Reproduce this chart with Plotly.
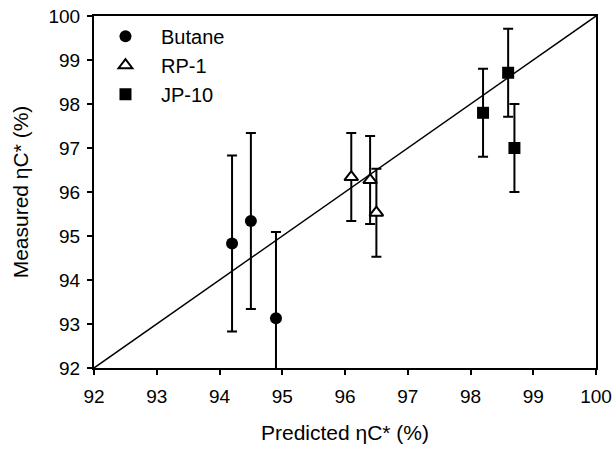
import plotly.graph_objects as go

# Data
butane_x = [94.2, 94.5, 94.9]
butane_y = [94.83, 95.34, 93.13]
butane_err = [2.0, 2.0, 1.96]

rp1_x = [96.1, 96.4, 96.5]
rp1_y = [96.34, 96.27, 95.53]
rp1_err = [1.0, 1.0, 1.0]

jp10_x = [98.2, 98.6, 98.7]
jp10_y = [97.8, 98.71, 97.0]
jp10_err = [1.0, 1.0, 1.0]

parity = [92, 100]

FONT = "Arial, Liberation Sans, sans-serif"

fig = go.Figure()

fig.add_trace(go.Scatter(x=parity, y=parity, mode="lines",
                         line=dict(color="black", width=1.5),
                         showlegend=False, hoverinfo="skip"))

def err(arr):
    return dict(type="data", array=arr, visible=True, color="black",
                thickness=2, width=5)

fig.add_trace(go.Scatter(x=butane_x, y=butane_y, mode="markers", name="Butane",
                         marker=dict(symbol="circle", size=12, color="black"),
                         error_y=err(butane_err), legendgroup="a"))
fig.add_trace(go.Scatter(x=rp1_x, y=rp1_y, mode="markers", name="RP-1",
                         marker=dict(symbol="triangle-up", size=12, color="white",
                                     line=dict(color="black", width=2)),
                         error_y=err(rp1_err), legendgroup="b"))
fig.add_trace(go.Scatter(x=jp10_x, y=jp10_y, mode="markers", name="JP-10",
                         marker=dict(symbol="square", size=12, color="black"),
                         error_y=err(jp10_err), legendgroup="c"))

fig.update_layout(
    width=616, height=452,
    margin=dict(l=94, r=20, t=16, b=84, autoexpand=False),
    plot_bgcolor="white", paper_bgcolor="white",
    font=dict(family=FONT, size=19, color="black"),
    legend=dict(x=-0.008, y=0.998, xanchor="left", yanchor="top",
                bgcolor="rgba(0,0,0,0)", font=dict(size=20),
                itemwidth=61, traceorder="normal"),
    xaxis=dict(range=[92, 100], dtick=1, tick0=92, automargin=False,
               showline=True, linecolor="black", linewidth=2, mirror=True,
               ticks="outside", ticklen=5, tickwidth=2, tickcolor="black",
               ticklabelstandoff=5,
               showgrid=False, zeroline=False,
               title=dict(text="Predicted ηC* (%)", font=dict(size=21), standoff=20)),
    yaxis=dict(range=[92, 100], dtick=1, tick0=92, automargin=False,
               showline=True, linecolor="black", linewidth=2, mirror=True,
               ticks="outside", ticklen=5, tickwidth=2, tickcolor="black",
               ticklabelstandoff=3,
               showgrid=False, zeroline=False,
               title=dict(text="Measured ηC* (%)", font=dict(size=21), standoff=14)),
)

fig.write_html("out.html")
